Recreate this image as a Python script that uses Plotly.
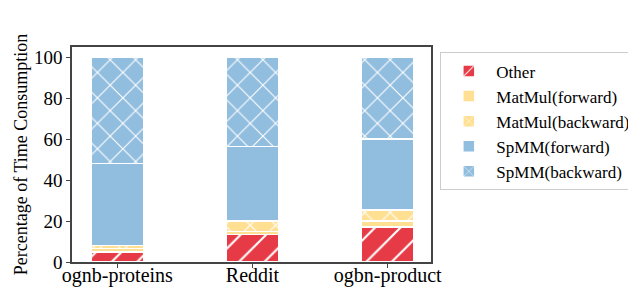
import plotly.graph_objects as go

categories = ["ognb-proteins", "Reddit", "ogbn-product"]
other = [5, 13.5, 17]
matmul_fwd = [1.5, 1.5, 3]
matmul_bwd = [1.5, 5, 5.5]
spmm_fwd = [40, 36.5, 34.5]
spmm_bwd = [52, 43.5, 40]

series = [
    ("Other", other, "#E63A46", "/"),
    ("MatMul(forward)", matmul_fwd, "#FFDF92", ""),
    ("MatMul(backward)", matmul_bwd, "#FFDF92", "x"),
    ("SpMM(forward)", spmm_fwd, "#91BDDF", ""),
    ("SpMM(backward)", spmm_bwd, "#91BDDF", "x"),
]

FONT = "Liberation Serif"

fig = go.Figure()
for name, vals, color, shape in series:
    fig.add_trace(go.Bar(
        name=name, x=categories, y=vals, width=0.39,
        marker=dict(
            color=color,
            line=dict(color="white", width=1.5),
            pattern=dict(shape=shape, fgcolor="white", bgcolor=color,
                         size=18, solidity=0.12, fillmode="replace"),
        ),
    ))

fig.update_layout(
    barmode="stack",
    width=628, height=280,
    margin=dict(l=64, r=205, t=39, b=26, autoexpand=False),
    paper_bgcolor="white", plot_bgcolor="white",
    font=dict(family=FONT, size=17, color="black"),
    legend=dict(
        x=1.026, y=0.975, xanchor="left", yanchor="top",
        bordercolor="#cccccc", borderwidth=1,
        font=dict(family=FONT, size=17), traceorder="normal",
        tracegroupgap=0, itemwidth=45,
    ),
    showlegend=True,
)
fig.update_xaxes(
    range=[-0.335, 2.32], showline=True, linecolor="#444", linewidth=1.5,
    mirror=True, ticks="outside", ticklen=4, tickcolor="#444",
    tickfont=dict(family=FONT, size=20), showgrid=False, automargin=False,
    ticklabelstandoff=-10,
)
fig.update_yaxes(
    range=[0, 105], tickvals=[0, 20, 40, 60, 80, 100],
    showline=True, linecolor="#444", linewidth=1.5, mirror=True,
    ticks="outside", ticklen=4, tickcolor="#444", showgrid=False,
    tickfont=dict(family=FONT, size=19), zeroline=False, automargin=False,
    title=dict(text="Percentage of Time Consumption",
               font=dict(family=FONT, size=18), standoff=2),
)
fig.write_html("out.html")
